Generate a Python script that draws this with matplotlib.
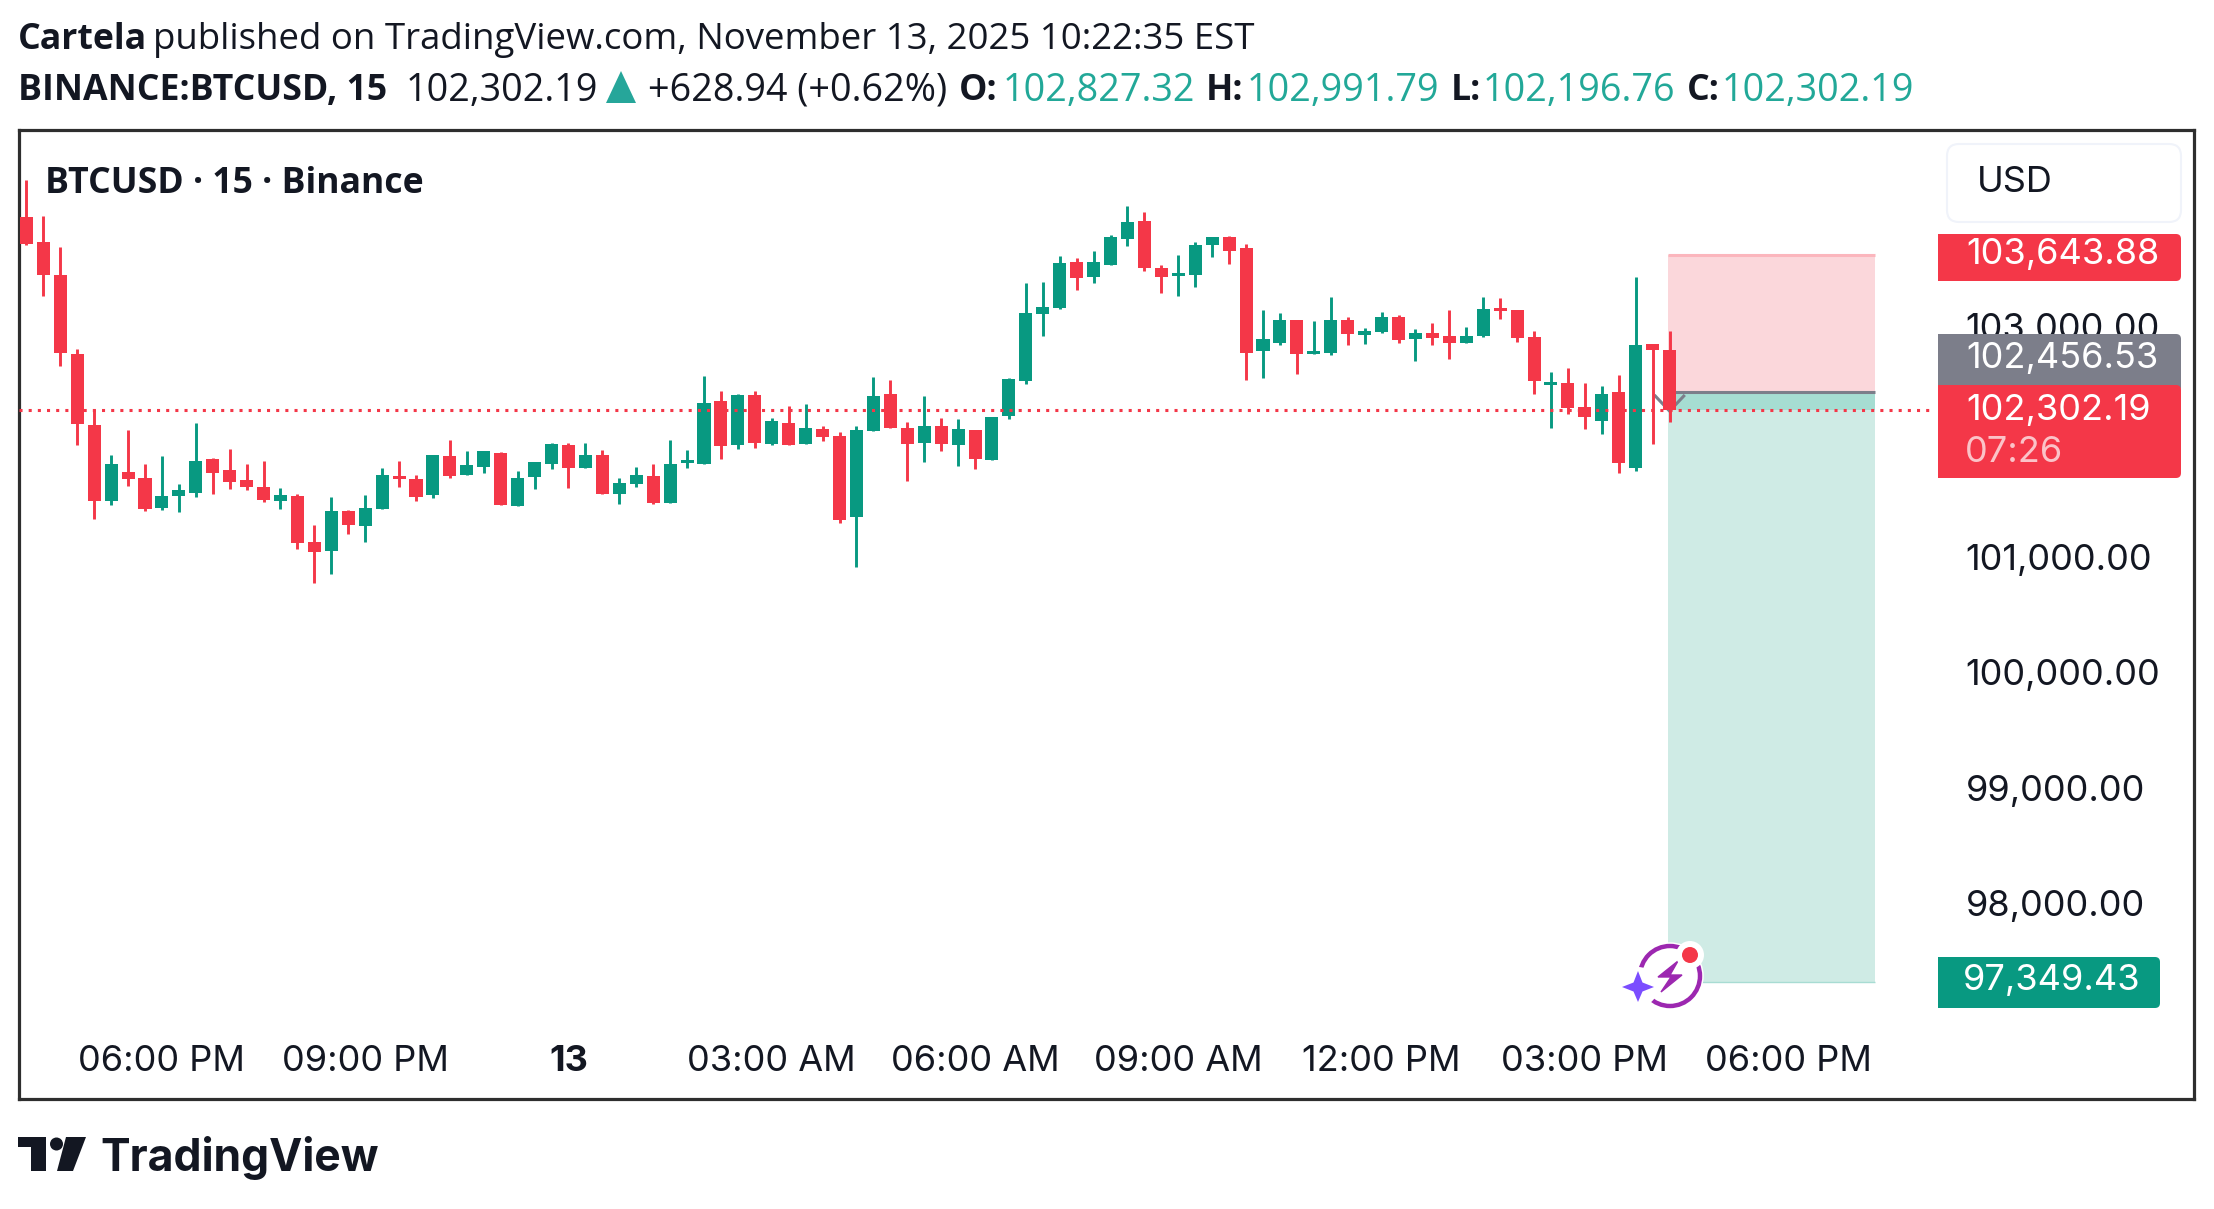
import matplotlib
matplotlib.use("Agg")
import matplotlib.pyplot as plt
import numpy as np
from matplotlib.patches import Circle, FancyBboxPatch, Polygon, Rectangle
from matplotlib.transforms import ScaledTranslation

# 15 minute candles
OPENS = [103978, 103761, 103475, 102790, 102175, 101516, 101768, 101716, 101456, 101560,
         101586, 101880, 101785, 101698, 101638, 101516, 101560, 101161, 101083, 101430,
         101300, 101447, 101733, 101707, 101568, 101906, 101742, 101811, 101932, 101473,
         101724, 101837, 102002, 101802, 101915, 101577, 101664, 101733, 101499, 101846,
         101837, 102383, 102002, 102435, 102010, 102192, 102010, 102140, 102080, 101378,
         102123, 102444, 102149, 102019, 102166, 102002, 102132, 101872, 102253, 102556,
         103137, 103189, 103588, 103458, 103562, 103787, 103943, 103536, 103466, 103475,
         103735, 103804, 103709, 102816, 102886, 103085, 102790, 102799, 103085, 102955,
         102981, 103111, 102920, 102972, 102946, 102886, 102946, 103189, 103172, 102938,
         102522, 102539, 102331, 102210, 102461, 101802, 102877, 102825]
HIGHS = [104298, 103986, 103718, 102834, 102314, 101915, 102132, 101837, 101906, 101664,
         102192, 101889, 101967, 101837, 101863, 101629, 101577, 101308, 101551, 101438,
         101568, 101802, 101863, 101742, 101915, 102045, 101950, 101950, 101941, 101776,
         101854, 102019, 102019, 102019, 101958, 101716, 101811, 101837, 102045, 101958,
         102600, 102470, 102444, 102470, 102236, 102340, 102357, 102166, 102114, 102166,
         102591, 102565, 102201, 102426, 102236, 102227, 102132, 102244, 102582, 103406,
         103414, 103640, 103622, 103683, 103822, 104073, 104021, 103562, 103648, 103761,
         103804, 103813, 103744, 103172, 103146, 103085, 103076, 103284, 103111, 103016,
         103154, 103128, 103007, 103059, 103172, 103024, 103284, 103276, 103172, 102990,
         102634, 102669, 102539, 102513, 102608, 103458, 102877, 102990]
LOWS = [103735, 103293, 102686, 102002, 101360, 101482, 101646, 101430, 101438, 101421,
        101551, 101577, 101620, 101612, 101508, 101447, 101100, 100805, 100884, 101230,
        101161, 101447, 101638, 101516, 101542, 101716, 101742, 101759, 101482, 101473,
        101620, 101794, 101629, 101802, 101577, 101490, 101638, 101490, 101499, 101802,
        101837, 101880, 101967, 101976, 102002, 102002, 102010, 102036, 101326, 100944,
        102123, 102149, 101690, 101854, 101950, 101820, 101794, 101872, 102227, 102530,
        102946, 103180, 103345, 103406, 103562, 103726, 103510, 103319, 103293, 103371,
        103631, 103570, 102565, 102582, 102868, 102617, 102790, 102782, 102868, 102877,
        102972, 102886, 102730, 102868, 102747, 102886, 102938, 103094, 102894, 102444,
        102149, 102270, 102140, 102097, 101759, 101776, 102010, 102201]
CLOSES = [103744, 103475, 102802, 102184, 101516, 101837, 101707, 101447, 101560, 101612,
          101863, 101759, 101681, 101638, 101525, 101568, 101152, 101074, 101430, 101308,
          101456, 101742, 101707, 101551, 101915, 101733, 101828, 101950, 101482, 101716,
          101854, 102010, 101802, 101915, 101577, 101672, 101742, 101499, 101837, 101872,
          102366, 101993, 102435, 102019, 102210, 102002, 102149, 102071, 101352, 102132,
          102426, 102149, 102010, 102166, 102010, 102140, 101880, 102244, 102574, 103146,
          103198, 103579, 103449, 103588, 103804, 103934, 103536, 103458, 103492, 103735,
          103804, 103683, 102799, 102920, 103085, 102790, 102816, 103085, 102964, 102990,
          103111, 102912, 102972, 102929, 102886, 102946, 103180, 103163, 102929, 102556,
          102548, 102322, 102244, 102444, 101846, 102868, 102825, 102302]

LAST_PRICE = 102302.19
STOP = 103643.88
ENTRY = 102456.53
TARGET = 97349.43
BOX_START, BOX_END = 96.9, 109.1

Y_TICKS = [98000, 99000, 100000, 101000, 102000, 103000]
X_TICKS = [8, 20, 32, 44, 56, 68, 80, 92, 104]
X_LABELS = ["06:00 PM", "09:00 PM", "13", "03:00 AM", "06:00 AM", "09:00 AM",
            "12:00 PM", "03:00 PM", "06:00 PM"]

RED = "#F43748"
GREEN = "#089981"
GRAY = "#7C7E8A"
INK = "#131722"
TEAL = "#22A898"
W, H = 2214, 1209
TEXT_FONT = ["Open Sans", "DejaVu Sans"]
AXIS_FONT = ["Inter", "DejaVu Sans"]

fig = plt.figure(figsize=(W / 100, H / 100), dpi=100, facecolor="white")

# chart frame, pixel box of the reference
left, right, top, bottom = 19, 2194, 130, 1099
ax = fig.add_axes([left / W, 1 - bottom / H, (right - left) / W, (bottom - top) / H])
ax.set_xlim(-0.437, 127.96)
ax.set_ylim(96334, 104731)

opens = np.array(OPENS, float)
closes = np.array(CLOSES, float)
xs = np.arange(len(opens))
colors = [GREEN if c >= o else RED for o, c in zip(opens, closes)]

# position box
ax.add_patch(Rectangle((BOX_START, ENTRY), BOX_END - BOX_START, STOP - ENTRY,
                       facecolor="#FBD7DB", edgecolor="none", zorder=1))
ax.add_patch(Rectangle((BOX_START, TARGET), BOX_END - BOX_START, ENTRY - TARGET,
                       facecolor="#CFEBE5", edgecolor="none", zorder=1))
ax.add_patch(Rectangle((BOX_START, LAST_PRICE), BOX_END - BOX_START, ENTRY - LAST_PRICE,
                       facecolor="#A6DDD2", edgecolor="none", zorder=1.1))
ax.plot([BOX_START, BOX_END], [STOP, STOP], color="#FBB6BD", lw=2.2, zorder=1.2,
        solid_capstyle="butt")
ax.plot([BOX_START, BOX_END], [TARGET, TARGET], color="#A8DCD3", lw=1, zorder=1.2,
        solid_capstyle="butt")
ax.plot([BOX_START, BOX_END], [ENTRY, ENTRY], color=GRAY, lw=2.2, zorder=1.3,
        solid_capstyle="butt")
ax.plot([96.1, 97.0, 97.9], [102435, 102295, 102435], color=GRAY, lw=2.2, zorder=1.4,
        solid_capstyle="butt")

# candles
ax.vlines(xs, LOWS, HIGHS, colors=colors, linewidth=2.1, zorder=3)
ax.bar(xs, np.abs(closes - opens), bottom=np.minimum(opens, closes), width=0.77,
       color=colors, linewidth=0, zorder=3.1)

ax.plot([-0.437, 112.55], [LAST_PRICE, LAST_PRICE], color=RED, lw=2.2,
        linestyle=(0, (1, 2)), dash_capstyle="butt", zorder=4)

for spine in ax.spines.values():
    spine.set_color("#2E2E2E")
    spine.set_linewidth(2.3)

ax.yaxis.tick_right()
ax.set_yticks(Y_TICKS)
ax.set_yticklabels([f"{v:,.2f}" for v in Y_TICKS], family=AXIS_FONT, fontsize=26,
                   color=INK, ha="left")
ax.tick_params(axis="y", length=0, pad=-164.5)
up = ScaledTranslation(0, 3.5 / 100, fig.dpi_scale_trans)
for lab in ax.get_yticklabels():
    lab.set_transform(lab.get_transform() + up)
ax.set_xticks(X_TICKS)
ax.set_xticklabels(X_LABELS, family=AXIS_FONT, fontsize=26, color=INK)
ax.tick_params(axis="x", length=0, pad=-39)
ax.get_xticklabels()[2].set_fontweight("bold")

# overlay in reference pixels for header, tags and logo
ov = fig.add_axes([0, 0, 1, 1], zorder=5)
ov.set_xlim(0, W)
ov.set_ylim(H, 0)
ov.axis("off")
ov.patch.set_alpha(0)


def header(x, y, text, color=INK, weight="normal", size=26.4):
    ov.text(x, y, text, family=TEXT_FONT, fontsize=size, color=color, fontweight=weight,
            va="center", ha="left")


def bold(x, y, text):
    header(x, y, text, weight="bold", size=25.7)


def digits(x, y, text, color=INK):
    header(x, y, text, color=color, size=27.2)


def tag(x0, y0, x1, y1, color):
    r = 5
    ov.add_patch(FancyBboxPatch((x0 + r, y0 + r), x1 - x0 - 2 * r, y1 - y0 - 2 * r,
                                boxstyle=f"round,pad={r},rounding_size={r}",
                                facecolor=color, edgecolor="none"))
    ov.add_patch(Rectangle((x0, y0), 30, y1 - y0, facecolor=color, edgecolor="none"))


def tag_text(x, y, text, color="white"):
    ov.text(x, y, text, family=AXIS_FONT, fontsize=26, color=color, va="center", ha="left")


bold(18, 40, "Cartela")
header(153, 40, "published on TradingView.com, November 13, 2025 10:22:35 EST")
bold(18, 91, "BINANCE:BTCUSD, 15")
digits(406, 91, "102,302.19")
ov.add_patch(Polygon([[606, 103], [636, 103], [621, 71]], facecolor="#26A69A", edgecolor="none"))
digits(648, 91, "+628.94 (+0.62%)")
bold(959, 91, "O:")
digits(1003, 91, "102,827.32", TEAL)
bold(1206, 91, "H:")
digits(1247, 91, "102,991.79", TEAL)
bold(1451, 91, "L:")
digits(1483, 91, "102,196.76", TEAL)
bold(1687, 91, "C:")
digits(1722, 91, "102,302.19", TEAL)
bold(45, 184, "BTCUSD · 15 · Binance")

ov.add_patch(FancyBboxPatch((1957, 154), 214, 58, boxstyle="round,pad=10,rounding_size=12",
                            facecolor="white", edgecolor="#F0F3FA", linewidth=1.5))
tag_text(1977, 183, "USD", color=INK)

tag(1938, 234, 2181, 281, RED)
tag_text(1966, 255, "103,643.88")
tag(1938, 334, 2181, 392, GRAY)
tag_text(1966, 359, "102,456.53")
tag(1938, 385, 2181, 478, RED)
tag_text(1966, 410, "102,302.19")
tag_text(1965, 452, "07:26", color="#FBC3C8")
tag(1938, 957, 2160, 1008, GREEN)
tag_text(1963, 981, "97,349.43")

# flash icon
ov.add_patch(Circle((1670, 976), 33, facecolor="white", edgecolor="white"))
ov.add_patch(Circle((1670, 976), 30, facecolor="white", edgecolor="#9C27B0", linewidth=3.2))
bolt = [[1678, 961], [1658, 977], [1671, 977], [1661, 992], [1682, 975], [1670, 975]]
ov.add_patch(Polygon(bolt, facecolor="#9C27B0", edgecolor="#9C27B0", linewidth=1))
ov.add_patch(Circle((1638, 987), 20, facecolor="white", edgecolor="none"))
star = [[1638, 971], [1642.5, 982.5], [1654, 987], [1642.5, 991.5], [1638, 1002], [1633.5, 991.5],
        [1622, 987], [1633.5, 982.5]]
ov.add_patch(Polygon(star, facecolor="#7B4DFF", edgecolor="none"))
ov.add_patch(Circle((1690, 955), 14, facecolor="white", edgecolor="none"))
ov.add_patch(Circle((1690, 955), 8, facecolor=RED, edgecolor="none"))

# logo
ov.add_patch(Polygon([[18, 1137], [46, 1137], [46, 1171], [31, 1171], [31, 1147], [18, 1147]],
                     facecolor=INK, edgecolor="none"))
ov.add_patch(Circle((56.5, 1144), 6.5, facecolor=INK, edgecolor="none"))
ov.add_patch(Polygon([[66, 1137], [86, 1137], [73, 1171], [57, 1171]],
                     facecolor=INK, edgecolor="none"))
ov.text(100, 1171, "TradingView", family=["Inter", "DejaVu Sans"], fontsize=32,
        fontweight="bold", color=INK, va="baseline", ha="left")

fig.savefig("out.png", dpi=100)
plt.close(fig)
